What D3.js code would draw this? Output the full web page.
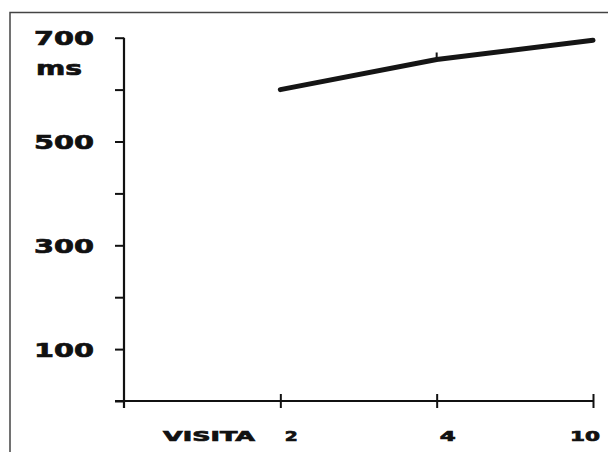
<!DOCTYPE html>
<html><head><meta charset="utf-8">
<script src="https://cdn.jsdelivr.net/npm/d3@7"></script>
<style>
html,body{margin:0;padding:0;background:#fff;}
svg{display:block;}
text{font-family:"DejaVu Sans",sans-serif;font-weight:bold;fill:#111;stroke:#111;stroke-width:0.7px;}
</style></head>
<body>
<svg id="chart" width="608" height="452"></svg>
<script>
// Data
const visits = ["2", "4", "10"];
const rtValues = [600, 658, 695];
const yTickValues = [0, 100, 200, 300, 400, 500, 600, 700];
const yTickLabels = ["", "100", "", "300", "", "500", "", "700"];
const yUnit = "ms";
const xTitle = "VISITA";

const svg = d3.select("#chart");
const x = d3.scaleLinear().domain([0, visits.length]).range([124, 593]);
const y = d3.scaleLinear().domain([0, 700]).range([401, 37.7]);

// stretch text horizontally to a target width (wide bitmap-style glyphs)
function widen(sel, targetW, anchor) {
  sel.each(function () {
    const t = d3.select(this);
    const ax = +t.attr("data-x"), ay = +t.attr("data-y");
    const w = this.getComputedTextLength();
    const tw = typeof targetW === "function" ? targetW(t.text()) : targetW;
    const s = tw / w;
    let x0 = ax;
    if (anchor === "end") x0 = ax - tw;
    else if (anchor === "middle") x0 = ax - tw / 2;
    t.attr("x", 0).attr("y", 0).attr("text-anchor", "start")
     .attr("transform", `translate(${x0},${ay}) scale(${s},1)`);
  });
}

// frame (top and left border)
svg.append("path").attr("d", "M10,452 V12.5 H608")
  .attr("fill", "none").attr("stroke", "#444").attr("stroke-width", 1.5);

// y axis
const yAxis = d3.axisLeft(y).tickValues(yTickValues).tickSize(9).tickFormat("");
const gy = svg.append("g").attr("transform", "translate(124,0)").call(yAxis);
gy.select(".domain").remove();
gy.selectAll(".tick line").attr("stroke", "#111").attr("stroke-width", 2);
svg.append("line").attr("x1", 124).attr("x2", 124).attr("y1", y(700)).attr("y2", 408)
  .attr("stroke", "#111").attr("stroke-width", 2.2);

// y labels
svg.append("g").selectAll("text").data(yTickValues.filter((d, i) => yTickLabels[i] !== ""))
  .join("text")
  .attr("data-x", 94).attr("data-y", d => y(d) + 7.5)
  .attr("font-size", 20)
  .text(d => yTickLabels[yTickValues.indexOf(d)])
  .call(widen, 60, "end");

svg.append("text").attr("data-x", 36).attr("data-y", 75).attr("font-size", 19)
  .text(yUnit).call(widen, 46, "start");

// x axis
const xAxis = d3.axisBottom(x).tickValues(d3.range(1, visits.length + 1)).tickSize(14).tickFormat("");
const gx = svg.append("g").attr("transform", "translate(0,401)").call(xAxis);
gx.select(".domain").remove();
gx.selectAll(".tick line").attr("y1", -7).attr("y2", 7).attr("stroke", "#111").attr("stroke-width", 2);
svg.append("line").attr("x1", 115).attr("x2", x(visits.length)).attr("y1", 401).attr("y2", 401)
  .attr("stroke", "#111").attr("stroke-width", 2.2);

// x labels
const labelW = {"2": 13, "4": 16, "10": 30};
svg.append("g").selectAll("text").data(visits).join("text")
  .attr("data-x", (d, i) => Math.min(x(i + 1) + 11, 585))
  .attr("data-y", 441)
  .attr("font-size", 14)
  .text(d => d)
  .call(widen, d => labelW[d] || 16, "middle");

svg.append("text").attr("data-x", 163).attr("data-y", 441).attr("font-size", 14)
  .text(xTitle).call(widen, 92, "start");

// data line
const line = d3.line().x((d, i) => x(i + 1)).y(d => y(d));
svg.append("path").datum(rtValues).attr("d", line)
  .attr("fill", "none").attr("stroke", "#151515").attr("stroke-width", 5)
  .attr("stroke-linecap", "round").attr("stroke-linejoin", "round");

// point marker (small spike at interior visits)
const pts = rtValues.map((v, i) => ({v, i})).filter(p => p.i > 0 && p.i < rtValues.length - 1);
svg.append("g").selectAll("line").data(pts).join("line")
  .attr("x1", p => x(p.i + 1)).attr("x2", p => x(p.i + 1))
  .attr("y1", p => y(p.v) - 7).attr("y2", p => y(p.v))
  .attr("stroke", "#151515").attr("stroke-width", 2);
</script>
</body></html>
